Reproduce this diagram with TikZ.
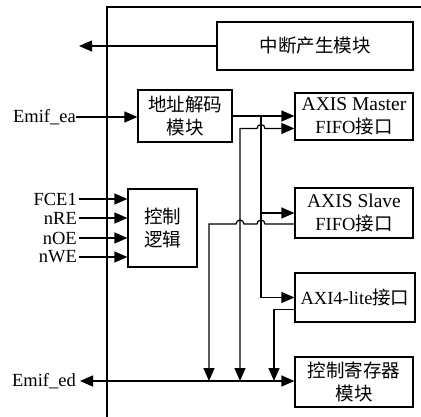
\documentclass[tikz,border=0pt]{standalone}
\usepackage{fontspec}
\setmainfont{Liberation Serif}
\newfontfamily\cjk{Noto Sans CJK SC}
\usetikzlibrary{arrows.meta,positioning}
\tikzset{
  >={Triangle[length=13pt,width=11pt]},
  blk/.style={draw,line width=1.2pt,align=center,inner sep=0pt,
    font=\fontsize{18.5}{23}\selectfont},
  sig/.style={->,line width=1.2pt},
  pin/.style={font=\fontsize{18.5}{23}\selectfont,inner sep=0pt,anchor=east},
}

\begin{document}
\begin{tikzpicture}[x=1pt,y=1pt]
  \useasboundingbox (0,0) rectangle (421,-417);
  % outer frame
  \draw[line width=1.2pt] (107,-417) -- (107,-7) -- (421,-7);
  % modules
  \node[blk,minimum width=196pt,minimum height=48pt] (irq) at (315,-46) {\cjk 中断产生模块};
  \node[blk,minimum width=94pt,minimum height=52pt] (dec) at (185,-116) {\cjk 地址解码\\\cjk 模块};
  \node[blk,minimum width=69pt,minimum height=78pt] (ctl) at (162.5,-228) {\cjk 控制\\\cjk 逻辑};
  \node[blk,minimum width=118pt,minimum height=47pt] (mst) at (354,-116.5) {\fontsize{19.5}{23}\selectfont AXIS Master\\FIFO{\cjk\fontsize{18.5}{23}\selectfont 接口}};
  \node[blk,minimum width=118pt,minimum height=50pt] (slv) at (354,-213) {\fontsize{19.5}{23}\selectfont AXIS Slave\\FIFO{\cjk\fontsize{18.5}{23}\selectfont 接口}};
  \node[blk,minimum width=120pt,minimum height=49pt] (lite) at (355,-297.5) {AXI4-lite{\cjk 接口}};
  \node[blk,minimum width=118pt,minimum height=50pt] (reg) at (354,-382) {\cjk 控制寄存器\\\cjk 模块};
  % pins
  \node[pin] (ea) at (76,-117) {Emif\_ea};
  \node[pin] (ed) at (76,-381) {Emif\_ed};
  \foreach \s/\y [count=\i] in {FCE1/199,nRE/218,nOE/238,nWE/257}
  {
    \node[pin] (in\i) at (77,-\y) {\s};
    \draw[sig] ([xshift=2pt]in\i.east) -- (in\i -| ctl.west);
  }
  % taps and drops
  \coordinate (irqo) at (79,-46);
  \coordinate (tp) at (261,-117);
  \coordinate (dA) at (209,-381);
  \coordinate (dB) at (240,-381);
  \coordinate (dC) at (274,-381);
  \coordinate (m2) at ([yshift=-12pt]mst.west);
  \coordinate (s2) at ([yshift=-11pt]slv.west);
  \coordinate (l2) at ([yshift=-12pt]lite.west);
  % connectors
  \draw[sig] (irq.west) -- (irqo);
  \draw[sig] (ea.east) -- (ea -| dec.west);
  \draw[sig] (dec.east) -- (dec.east -| mst.west);
  \draw[sig] (tp) |- (lite.west);
  \draw[sig] (tp |- slv.west) -- (slv.west);
  \draw[sig,<->] (dB) -- (dB |- m2) -- ([xshift=-4pt]tp |- m2)
    arc[start angle=180,end angle=0,radius=4] -- (m2);
  \draw[sig] (s2) -- ([xshift=4pt]tp |- s2) arc[start angle=0,end angle=180,radius=4]
    -- ([xshift=4pt]dB |- s2) arc[start angle=0,end angle=180,radius=4]
    -- (dA |- s2) -- (dA);
  \draw[sig] (l2) -| (dC);
  \draw[sig,<->] ([xshift=4pt]ed.east) -- (ed -| reg.west);
\end{tikzpicture}
\end{document}
